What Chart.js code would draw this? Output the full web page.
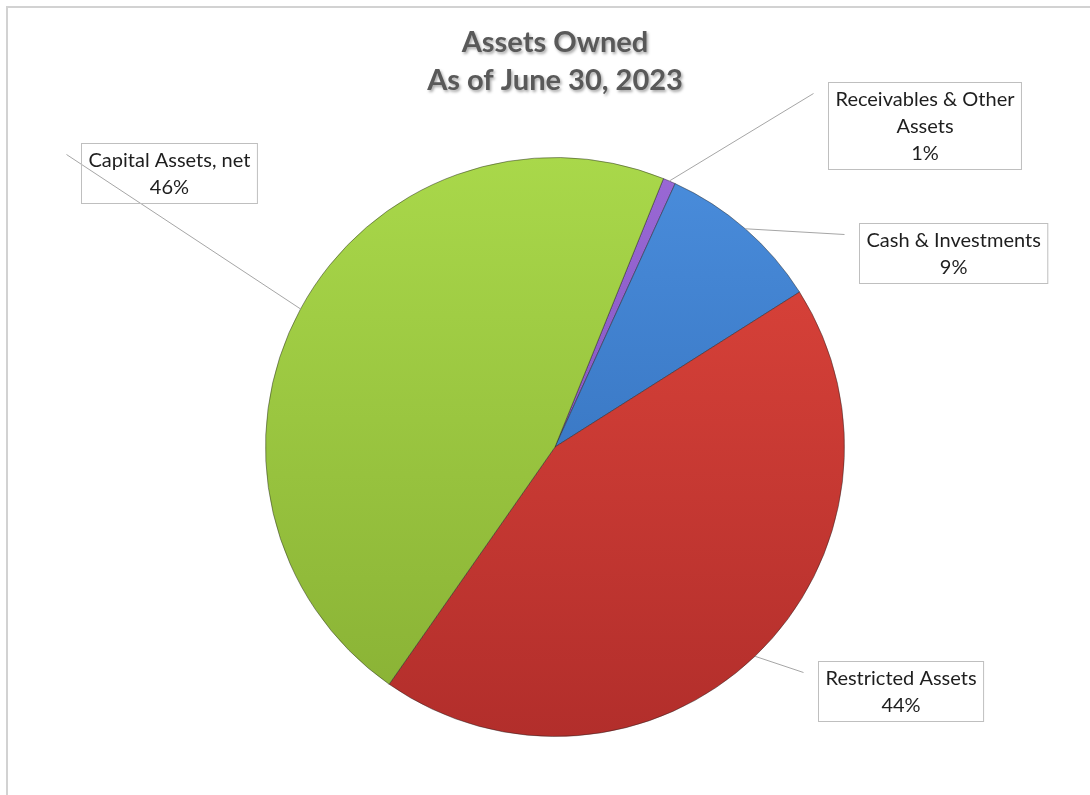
<!DOCTYPE html>
<html>
<head>
<meta charset="utf-8">
<script src="https://cdn.jsdelivr.net/npm/chart.js@4.4.0/dist/chart.umd.min.js"></script>
<style>
    html, body { margin: 0; background: #fff; }
    #wrap { width: 1090px; height: 795px; }
</style>
</head>
<body>
<div id="wrap"><canvas id="assetsChart"></canvas></div>
<script>
// Répartition des actifs au 30 juin 2023 (en % du total)
const categories = ["Receivables & Other Assets", "Cash & Investments", "Restricted Assets", "Capital Assets, net"];
const shares = [0.7, 9.2, 43.7, 46.4];
// Texte des étiquettes, ligne par ligne (le % est ajouté au dessin)
const calloutLines = [["Receivables & Other", "Assets"], ["Cash & Investments"], ["Restricted Assets"], ["Capital Assets, net"]];

// Couleurs haut / bas du dégradé de chaque part
const topColors = ["#9a69d6", "#4a8ddc", "#e0463c", "#a9d84a"];
const bottomColors = ["#7649b0", "#2c66b0", "#b22e2b", "#88b034"];

// Position des étiquettes, en rayons depuis le centre du camembert
const calloutOffsets = [[1.275, -1.109], [1.374, -0.669], [1.195, 0.844], [-1.333, -0.947]];

const total = shares.reduce((a, b) => a + b, 0);

function sliceGradient(ctx) {
    const area = ctx.chart.chartArea;
    const i = ctx.dataIndex;
    if (!area) return topColors[i];
    const g = ctx.chart.ctx.createLinearGradient(0, area.top, 0, area.bottom);
    g.addColorStop(0, topColors[i]);
    g.addColorStop(1, bottomColors[i]);
    return g;
}

// Fond, cadre, ombre du titre et étiquettes avec traits de rappel
const calloutPlugin = {
    id: "callouts",
    beforeDraw(chart) {
        const ctx = chart.ctx;
        ctx.save();
        ctx.fillStyle = "#fff";
        ctx.fillRect(0, 0, chart.width, chart.height);
        ctx.strokeStyle = "#d2d2d2";
        ctx.lineWidth = 2;
        ctx.beginPath();
        ctx.moveTo(7, chart.height);
        ctx.lineTo(7, 7);
        ctx.lineTo(chart.width, 7);
        ctx.stroke();
        ctx.restore();
        // ombre portée pour le titre (remise à zéro avant les parts)
        ctx.shadowColor = "rgba(0, 0, 0, 0.35)";
        ctx.shadowBlur = 3;
        ctx.shadowOffsetX = 1.5;
        ctx.shadowOffsetY = 1.5;
    },
    beforeDatasetsDraw(chart) {
        const ctx = chart.ctx;
        ctx.shadowColor = "rgba(0, 0, 0, 0)";
        ctx.shadowBlur = 0;
        ctx.shadowOffsetX = 0;
        ctx.shadowOffsetY = 0;
    },
    afterDatasetsDraw(chart) {
        const ctx = chart.ctx;
        const meta = chart.getDatasetMeta(0);
        ctx.save();
        ctx.font = "20px Lato";
        meta.data.forEach((arc, i) => {
            const { x, y, startAngle, endAngle, outerRadius } =
                arc.getProps(["x", "y", "startAngle", "endAngle", "outerRadius"], true);
            const mid = (startAngle + endAngle) / 2;
            const ax = x + Math.cos(mid) * outerRadius;
            const ay = y + Math.sin(mid) * outerRadius;

            const lines = [...calloutLines[i], Math.round(shares[i] / total * 100) + "%"];
            const w = Math.max(...lines.map(t => ctx.measureText(t).width)) + 14;
            const h = lines.length * 27 + 6;
            const cx = x + calloutOffsets[i][0] * outerRadius;
            const cy = y + calloutOffsets[i][1] * outerRadius;
            const left = Math.round(cx - w / 2) + 0.5;
            const top = Math.round(cy - h / 2) + 0.5;

            ctx.fillStyle = "#fff";
            ctx.fillRect(left, top, w, h);

            ctx.strokeStyle = "#a6a6a6";
            ctx.lineWidth = 1;
            ctx.beginPath();
            ctx.moveTo(ax, ay);
            ctx.lineTo(left - 15, top + 11);
            ctx.stroke();

            ctx.strokeStyle = "#bfbfbf";
            ctx.strokeRect(left, top, w, h);

            ctx.fillStyle = "#1e1e1e";
            ctx.textAlign = "center";
            ctx.textBaseline = "middle";
            lines.forEach((t, k) => ctx.fillText(t, left + w / 2, top + 17 + k * 27));
        });
        ctx.restore();
    }
};

new Chart(document.getElementById("assetsChart"), {
    type: "pie",
    data: {
        labels: categories,
        datasets: [{
            data: shares,
            backgroundColor: sliceGradient,
            borderColor: "rgba(30, 30, 30, 0.45)",
            borderWidth: 1,
        }],
    },
    options: {
        responsive: true,
        maintainAspectRatio: false,
        animation: false,
        rotation: 22,
        layout: {
            padding: { left: 265, right: 245, top: 24, bottom: 58 },
        },
        plugins: {
            legend: { display: false },
            tooltip: { enabled: false },
            title: {
                display: true,
                text: ["Assets Owned", "As of June 30, 2023"],
                color: "#595959",
                font: { family: "Lato", size: 29, weight: "bold", lineHeight: 1.31 },
                padding: { top: 0, bottom: 57 },
            },
        },
    },
    plugins: [calloutPlugin],
});
</script>
</body>
</html>
